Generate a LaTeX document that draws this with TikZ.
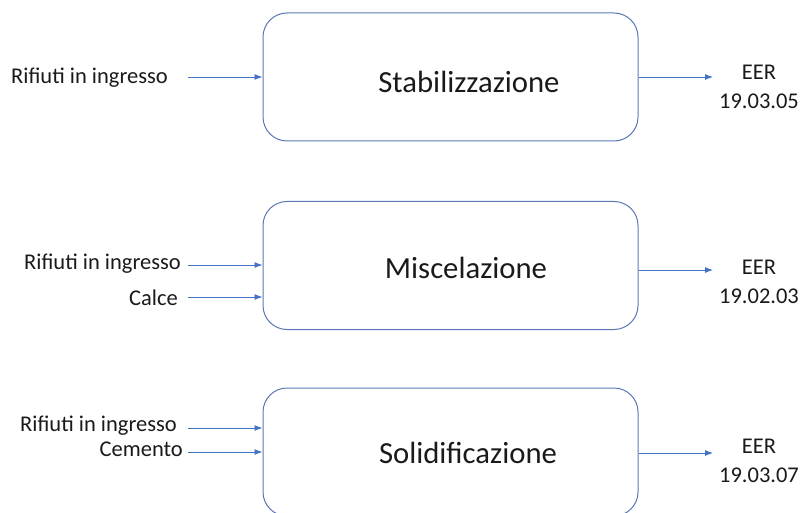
\documentclass[tikz,border=0pt]{standalone}
\usepackage{fontspec}
\setmainfont{Carlito}
\usetikzlibrary{arrows.meta}
\definecolor{boxc}{HTML}{5A78B4}
\definecolor{arrc}{HTML}{4472C4}
\definecolor{txt}{HTML}{1A1A1A}
\tikzset{
  procbox/.style={draw=boxc, line width=1pt, rounded corners=24pt, minimum width=375pt, minimum height=128pt, inner sep=0pt},
  boxtext/.style={font=\fontsize{30.7}{36}\selectfont, text=txt, inner sep=0pt},
  lab/.style={font=\fontsize{22.5}{29}\selectfont, text=txt, inner sep=0pt},
  flow/.style={draw=arrc, line width=0.9pt, -{Latex[length=8pt,width=6pt]}}
}
\begin{document}
\begin{tikzpicture}[x=1pt,y=-1pt]
\useasboundingbox (0,0) rectangle (800,513);
\begin{scope}
\clip (0,0) rectangle (800,513);
% boxes
\node[procbox] (b1) at (450.5,77) {};
\node[procbox] (b2) at (450.5,265.5) {};
\node[procbox] (b3) at (450.5,452) {};
\end{scope}
\node[boxtext] (t1) at (469,82) {Stabilizzazione};
\node[boxtext] (t2) at (466,268) {Miscelazione};
\node[boxtext] (t3) at (468,453) {Solidificazione};
% input labels
\node[lab, anchor=west] (l1) at (11,78) {Rifiuti in ingresso};
\node[lab, anchor=east] (l2a) at (181,264) {Rifiuti in ingresso};
\node[lab, anchor=east] (l2b) at (178,298) {Calce};
\node[lab, anchor=east] (l3a) at (177,426) {Rifiuti in ingresso};
\node[lab, anchor=east] (l3b) at (183,449) {Cemento};
% output labels
\node[lab, align=center] (o1) at (759,87) {EER\\19.03.05};
\node[lab, align=center] (o2) at (759,282) {EER\\19.02.03};
\node[lab, align=center] (o3) at (759,461) {EER\\19.03.07};
% arrow start points
\coordinate (s1) at (188,77);
\coordinate (s2a) at (188,265);
\coordinate (s2b) at (188,297);
\coordinate (s3a) at (188,428);
\coordinate (s3b) at (188,452);
\coordinate (e1) at (713,77);
\coordinate (e2) at (713,270);
\coordinate (e3) at (713,453);
\draw[flow] (s1) -- (s1 -| b1.west);
\draw[flow] (s2a) -- (s2a -| b2.west);
\draw[flow] (s2b) -- (s2b -| b2.west);
\draw[flow] (s3a) -- (s3a -| b3.west);
\draw[flow] (s3b) -- (s3b -| b3.west);
\draw[flow] (e1 -| b1.east) -- (e1);
\draw[flow] (e2 -| b2.east) -- (e2);
\draw[flow] (e3 -| b3.east) -- (e3);
\end{tikzpicture}
\end{document}
